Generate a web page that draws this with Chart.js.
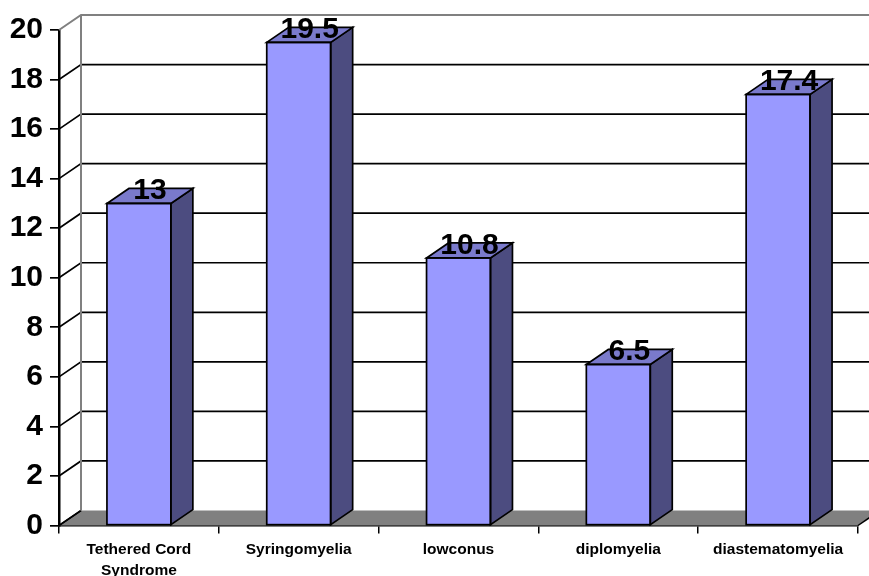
<!DOCTYPE html>
<html>
<head>
<meta charset="utf-8">
<script src="https://cdn.jsdelivr.net/npm/chart.js@4/dist/chart.umd.min.js"></script>
<style>
  html, body { margin: 0; padding: 0; background: #fff; }
  #wrap { width: 869px; height: 576px; position: relative; }
</style>
</head>
<body>
<div id="wrap"><canvas id="c"></canvas></div>
<script>
// Categories and values of the chart
const categories = [['Tethered Cord', 'Syndrome'], 'Syringomyelia', 'lowconus', 'diplomyelia', 'diastematomyelia'];
const values = [13, 19.5, 10.8, 6.5, 17.4];
const yMin = 0;
const yMax = 20;
const yStep = 2;

// Depth of the 3D box (pixels, to the right and upward)
const DX = 22;
const DY = -15;

const FONT = '"Liberation Sans", Arial, sans-serif';

// Back wall, side wall and floor drawn behind the columns
const wallsPlugin = {
  id: 'walls',
  beforeDatasetsDraw(chart) {
    const ctx = chart.ctx;
    const area = chart.chartArea;
    const ys = chart.scales.y;
    const L = area.left, R = area.right, B = area.bottom;
    ctx.save();
    // floor
    ctx.beginPath();
    ctx.moveTo(L, B);
    ctx.lineTo(R, B);
    ctx.lineTo(R + DX, B + DY);
    ctx.lineTo(L + DX, B + DY);
    ctx.closePath();
    ctx.fillStyle = '#808080';
    ctx.fill();
    ctx.strokeStyle = '#000';
    ctx.lineWidth = 1.5;
    ctx.beginPath();
    ctx.moveTo(R, B);
    ctx.lineTo(R + DX, B + DY);
    ctx.stroke();
    ctx.beginPath();
    ctx.moveTo(L, B);
    ctx.lineTo(L + DX, B + DY);
    ctx.stroke();

    // gridlines on side and back walls
    ys.ticks.forEach(t => {
      const y = ys.getPixelForValue(t.value);
      const top = t.value === yMax;
      ctx.strokeStyle = top ? '#808080' : '#000';
      ctx.lineWidth = top ? 2 : 1.7;
      ctx.beginPath();
      ctx.moveTo(L, y);
      ctx.lineTo(L + DX, y + DY);
      if (t.value !== yMin) ctx.lineTo(R + DX, y + DY);
      ctx.stroke();
    });
    // back wall left edge
    ctx.strokeStyle = '#808080';
    ctx.lineWidth = 2;
    ctx.beginPath();
    ctx.moveTo(L + DX, ys.getPixelForValue(yMax) + DY);
    ctx.lineTo(L + DX, B + DY);
    ctx.stroke();
    ctx.restore();
  },
  afterDatasetsDraw(chart) {
    const ctx = chart.ctx;
    const meta = chart.getDatasetMeta(0);
    ctx.save();
    ctx.lineWidth = 1.7;
    ctx.strokeStyle = '#000';
    ctx.lineJoin = 'miter';
    meta.data.forEach((bar, i) => {
      const p = bar.getProps(['x', 'y', 'base', 'width'], true);
      const l = p.x - p.width / 2, r = p.x + p.width / 2;
      const t = p.y, b = p.base;
      // side face
      ctx.beginPath();
      ctx.moveTo(r, t);
      ctx.lineTo(r + DX, t + DY);
      ctx.lineTo(r + DX, b + DY);
      ctx.lineTo(r, b);
      ctx.closePath();
      ctx.fillStyle = '#4C4C80';
      ctx.fill();
      ctx.stroke();
      // top face
      ctx.beginPath();
      ctx.moveTo(l, t);
      ctx.lineTo(l + DX, t + DY);
      ctx.lineTo(r + DX, t + DY);
      ctx.lineTo(r, t);
      ctx.closePath();
      ctx.fillStyle = '#7A7ACC';
      ctx.fill();
      ctx.stroke();
      // front outline
      ctx.strokeRect(l, t, p.width, b - t);
    });
    // value labels
    ctx.fillStyle = '#000';
    ctx.font = 'bold 30px ' + FONT;
    ctx.textAlign = 'center';
    ctx.textBaseline = 'alphabetic';
    meta.data.forEach((bar, i) => {
      const p = bar.getProps(['x', 'y'], true);
      ctx.fillText(String(values[i]), p.x + DX / 2, p.y - 4);
    });
    ctx.restore();
  }
};

new Chart(document.getElementById('c'), {
  type: 'bar',
  data: {
    labels: categories,
    datasets: [{
      data: values,
      backgroundColor: '#9999FF',
      borderWidth: 0,
      categoryPercentage: 1.0,
      barPercentage: 0.4
    }]
  },
  options: {
    responsive: true,
    maintainAspectRatio: false,
    animation: false,
    layout: { padding: { top: 30, right: 11, left: 0, bottom: 0 } },
    plugins: { legend: { display: false }, tooltip: { enabled: false } },
    scales: {
      x: {
        offset: true,
        grid: { display: true, drawOnChartArea: false, drawTicks: true, tickLength: 8, color: '#000', lineWidth: 1.5, offset: true },
        border: { display: true, color: '#000', width: 2.5 },
        ticks: {
          autoSkip: false, maxRotation: 0, minRotation: 0, padding: 5, color: '#000',
          font: { family: FONT, size: 15.5, weight: 'bold', lineHeight: 1.4 }
        },
        afterFit(scale) { scale.height = 50.5; }
      },
      y: {
        min: yMin, max: yMax,
        grid: { display: true, drawOnChartArea: false, drawTicks: true, tickLength: 9, color: '#000', lineWidth: 1.7 },
        border: { display: true, color: '#000', width: 2.5 },
        ticks: {
          stepSize: yStep, padding: 7, color: '#000',
          font: { family: FONT, size: 30, weight: 'bold' }
        },
        afterFit(scale) { scale.width = 59; }
      }
    }
  },
  plugins: [wallsPlugin]
});
</script>
</body>
</html>
